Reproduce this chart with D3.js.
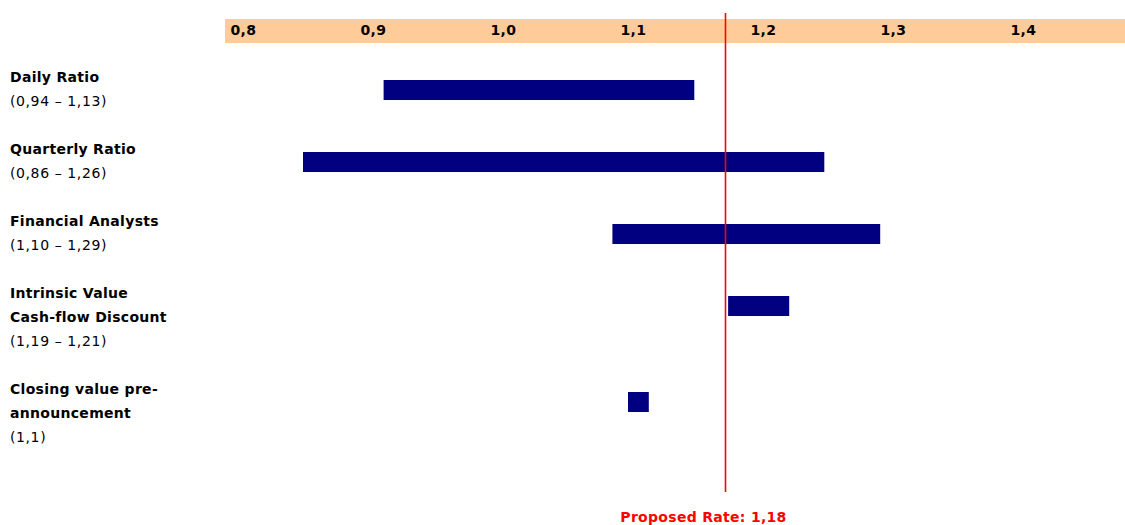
<!DOCTYPE html>
<html><head><meta charset="utf-8">
<script src="https://cdn.jsdelivr.net/npm/d3@7"></script>
<style>
html,body{margin:0;padding:0;background:#fff;}
svg{display:block;font-family:"DejaVu Sans",Verdana,sans-serif;}
</style></head>
<body><svg id="chart" width="1125" height="525"></svg>
<script>
// ---- data ----
const categories = ["Daily Ratio","Quarterly Ratio","Financial Analysts","Intrinsic Value","Closing value pre-announcement"];
const labelLines = [
  ["Daily Ratio"],
  ["Quarterly Ratio"],
  ["Financial Analysts"],
  ["Intrinsic Value","Cash-flow Discount"],
  ["Closing value pre-","announcement"]
];
const rangeLabels = ["(0,94 \u2013 1,13)","(0,86 \u2013 1,26)","(1,10 \u2013 1,29)","(1,19 \u2013 1,21)","(1,1)"];
const lowValues  = [0.917, 0.855, 1.093, 1.182, 1.105];
const highValues = [1.156, 1.256, 1.299, 1.229, 1.121];
const tickValues = [0.8, 0.9, 1.0, 1.1, 1.2, 1.3, 1.4];
const proposedRate = 1.18;
const proposedLabel = "Proposed Rate: 1,18";

// ---- layout ----
const svg = d3.select("#chart");
const x = d3.scaleLinear().domain([0.8, 1.5]).range([231.5, 1141.5]);
const fmt = d => d3.format(".1f")(d).replace(".", ",");

// header band
svg.append("rect").attr("x", 225).attr("y", 19).attr("width", 900).attr("height", 24).attr("fill", "#FFCC99");

const axis = d3.axisTop(x).tickValues(tickValues).tickFormat(fmt).tickSize(0).tickPadding(0);
const gAxis = svg.append("g").attr("transform", "translate(0,35)").call(axis);
gAxis.select(".domain").remove();
gAxis.selectAll("text").attr("text-anchor", "start").attr("dx", -1.5).attr("dy", 0)
  .style("font-size", "14px").style("font-weight", "bold").style("font-family", "DejaVu Sans")
  .style("letter-spacing", "0.3px").attr("fill", "#000");

// label blocks
const lineH = 24, firstBase = 82;
const rows = [];
let base = firstBase;
categories.forEach((c, i) => {
  const lines = labelLines[i];
  rows.push({c, i, base, lines, range: rangeLabels[i], lo: lowValues[i], hi: highValues[i]});
  base += (lines.length + 1) * lineH + lineH;
});

const gLab = svg.append("g");
rows.forEach(r => {
  r.lines.forEach((t, k) => {
    gLab.append("text").attr("x", 10).attr("y", r.base + k * lineH).text(t)
      .style("font-size", "14px").style("font-weight", "bold").style("letter-spacing", "0.3px").attr("fill", "#000");
  });
  gLab.append("text").attr("x", 10).attr("y", r.base + r.lines.length * lineH).text(r.range)
    .style("font-size", "14px").style("letter-spacing", "0.6px").attr("fill", "#000");
});

// bars
const barH = 20;
svg.append("g").selectAll("rect").data(rows).join("rect")
  .attr("x", d => x(d.lo)).attr("width", d => x(d.hi) - x(d.lo))
  .attr("y", d => d.base - 2).attr("height", barH)
  .attr("fill", "#000080");

// proposed rate line
const px = Math.round(x(proposedRate)) + 0.5;
svg.append("line").attr("x1", px).attr("x2", px)
  .attr("y1", 13).attr("y2", 492).attr("stroke", "#FF0000").attr("stroke-width", 1.6);
svg.append("text").attr("x", px - 22).attr("y", 522).attr("text-anchor", "middle")
  .text(proposedLabel).style("font-size", "14px").style("font-weight", "bold")
  .style("letter-spacing", "0.3px").attr("fill", "#FF0000");
</script></body></html>
